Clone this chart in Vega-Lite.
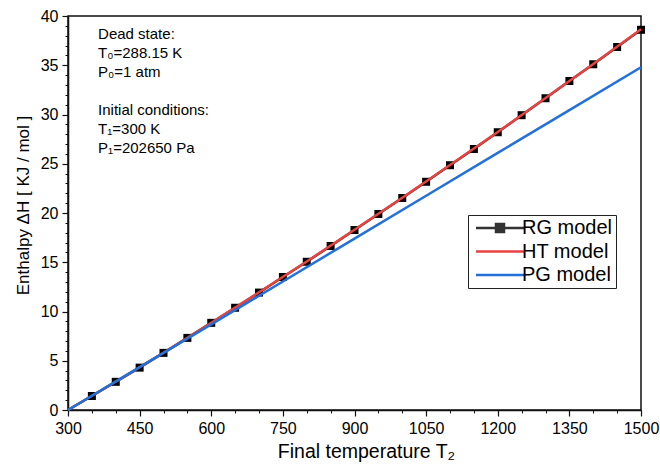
{
  "$schema": "https://vega.github.io/schema/vega-lite/v6.json",
  "width": 573,
  "height": 394,
  "autosize": "none",
  "padding": {"left": 68, "top": 16, "right": 19, "bottom": 54},
  "config": {
    "font": "Liberation Sans",
    "view": {"stroke": "#111111", "strokeWidth": 1.5},
    "axis": {"grid": false, "labelColor": "#000000", "titleColor": "#000000", "tickColor": "#111111", "domainColor": "#111111", "labelFont": "Liberation Sans", "titleFont": "Liberation Sans", "titleFontWeight": "normal"}
  },
  "datasets": {
    "rg": [
      {"T": 300, "H": 0, "series": "RG model"},
      {"T": 350, "H": 1.42, "series": "RG model"},
      {"T": 400, "H": 2.86, "series": "RG model"},
      {"T": 450, "H": 4.3, "series": "RG model"},
      {"T": 500, "H": 5.8, "series": "RG model"},
      {"T": 550, "H": 7.32, "series": "RG model"},
      {"T": 600, "H": 8.85, "series": "RG model"},
      {"T": 650, "H": 10.38, "series": "RG model"},
      {"T": 700, "H": 11.92, "series": "RG model"},
      {"T": 750, "H": 13.5, "series": "RG model"},
      {"T": 800, "H": 15.05, "series": "RG model"},
      {"T": 850, "H": 16.65, "series": "RG model"},
      {"T": 900, "H": 18.27, "series": "RG model"},
      {"T": 950, "H": 19.9, "series": "RG model"},
      {"T": 1000, "H": 21.52, "series": "RG model"},
      {"T": 1050, "H": 23.17, "series": "RG model"},
      {"T": 1100, "H": 24.85, "series": "RG model"},
      {"T": 1150, "H": 26.5, "series": "RG model"},
      {"T": 1200, "H": 28.2, "series": "RG model"},
      {"T": 1250, "H": 29.93, "series": "RG model"},
      {"T": 1300, "H": 31.65, "series": "RG model"},
      {"T": 1350, "H": 33.4, "series": "RG model"},
      {"T": 1400, "H": 35.1, "series": "RG model"},
      {"T": 1450, "H": 36.85, "series": "RG model"},
      {"T": 1500, "H": 38.6, "series": "RG model"}
    ],
    "ht": [
      {"T": 300, "H": 0, "series": "HT model"},
      {"T": 400, "H": 2.87, "series": "HT model"},
      {"T": 500, "H": 5.81, "series": "HT model"},
      {"T": 600, "H": 8.86, "series": "HT model"},
      {"T": 700, "H": 11.95, "series": "HT model"},
      {"T": 800, "H": 15.08, "series": "HT model"},
      {"T": 900, "H": 18.3, "series": "HT model"},
      {"T": 1000, "H": 21.55, "series": "HT model"},
      {"T": 1100, "H": 24.88, "series": "HT model"},
      {"T": 1200, "H": 28.22, "series": "HT model"},
      {"T": 1300, "H": 31.67, "series": "HT model"},
      {"T": 1400, "H": 35.12, "series": "HT model"},
      {"T": 1500, "H": 38.65, "series": "HT model"}
    ],
    "pg": [
      {"T": 300, "H": 0, "series": "PG model"},
      {"T": 450, "H": 4.35, "series": "PG model"},
      {"T": 600, "H": 8.7, "series": "PG model"},
      {"T": 750, "H": 13.05, "series": "PG model"},
      {"T": 900, "H": 17.4, "series": "PG model"},
      {"T": 1050, "H": 21.75, "series": "PG model"},
      {"T": 1200, "H": 26.1, "series": "PG model"},
      {"T": 1350, "H": 30.45, "series": "PG model"},
      {"T": 1500, "H": 34.8, "series": "PG model"}
    ],
    "notes": [
      {"T": 363, "H": 38.2, "text": "Dead state:"},
      {"T": 363, "H": 36.25, "text": "T₀=288.15 K"},
      {"T": 363, "H": 34.3, "text": "P₀=1 atm"},
      {"T": 363, "H": 30.45, "text": "Initial conditions:"},
      {"T": 363, "H": 28.5, "text": "T₁=300 K"},
      {"T": 363, "H": 26.55, "text": "P₁=202650 Pa"}
    ]
  },
  "layer": [
    {
      "data": {"name": "rg"},
      "mark": {"type": "line", "opacity": 0},
      "encoding": {
        "x": {"field": "T", "type": "quantitative", "scale": {"domain": [300, 1500], "nice": false, "zero": false},
          "axis": {"orient": "bottom", "values": [350, 400, 500, 550, 650, 700, 800, 850, 950, 1000, 1100, 1150, 1250, 1300, 1400, 1450], "labels": false, "domain": false, "tickSize": 3, "tickWidth": 1, "title": null}},
        "y": {"field": "H", "type": "quantitative", "scale": {"domain": [0, 40], "nice": false},
          "axis": {"orient": "left", "values": [1, 2, 3, 4, 6, 7, 8, 9, 11, 12, 13, 14, 16, 17, 18, 19, 21, 22, 23, 24, 26, 27, 28, 29, 31, 32, 33, 34, 36, 37, 38, 39], "labels": false, "domain": false, "tickSize": 3, "tickWidth": 1, "title": null}}
      }
    },
    {
      "data": {"name": "rg"},
      "mark": {"type": "line", "strokeWidth": 2.5},
      "encoding": {
        "x": {"field": "T", "type": "quantitative",
          "axis": {"orient": "bottom", "values": [300, 450, 600, 750, 900, 1050, 1200, 1350, 1500], "format": "d", "tickSize": 6, "tickWidth": 1.2, "domainWidth": 1.5, "labelFontSize": 16, "labelPadding": 4, "labelFlush": false, "title": "Final temperature T₂", "titleFontSize": 19.5, "titlePadding": 6, "titleX": 298}},
        "y": {"field": "H", "type": "quantitative",
          "axis": {"orient": "left", "values": [0, 5, 10, 15, 20, 25, 30, 35, 40], "format": "d", "tickSize": 6, "tickWidth": 1.2, "domainWidth": 1.5, "labelFontSize": 16, "labelPadding": 4, "labelFlush": false, "title": "Enthalpy ΔH [ KJ / mol ]", "titleFontSize": 17, "titlePadding": 8, "titleY": 189}},
        "color": {"field": "series", "type": "nominal",
          "scale": {"domain": ["RG model", "HT model", "PG model"], "range": ["#333333", "#ea4141", "#2270d9"]},
          "legend": {
            "orient": "none", "legendX": 400, "legendY": 199, "title": null,
            "strokeColor": "#222222", "fillColor": "#ffffff", "padding": 3, "cornerRadius": 0,
            "labelFontSize": 20, "labelFont": "Liberation Sans", "labelColor": "#000000", "labelOffset": 31,
            "symbolSize": 100, "symbolStrokeWidth": 2.5, "rowPadding": 3.5,
            "encode": {"symbols": {"update": {
              "shape": {"signal": "datum.value === 'RG model' ? 'M-1,0H8.6M3,-0.8H4.6V0.8H3Z' : 'M-1,0H8.6'"},
              "fill": {"signal": "scale('color', datum.value)"},
              "stroke": {"signal": "scale('color', datum.value)"}
            }}}
          }}
      }
    },
    {
      "data": {"name": "rg"},
      "transform": [{"filter": "datum.T > 300"}],
      "mark": {"type": "point", "shape": "square", "filled": true, "size": 64, "color": "#000000", "opacity": 1},
      "encoding": {
        "x": {"field": "T", "type": "quantitative", "axis": null},
        "y": {"field": "H", "type": "quantitative", "axis": null}
      }
    },
    {
      "data": {"name": "ht"},
      "mark": {"type": "line", "strokeWidth": 2.5},
      "encoding": {
        "x": {"field": "T", "type": "quantitative", "axis": null},
        "y": {"field": "H", "type": "quantitative", "axis": null},
        "color": {"field": "series", "type": "nominal"}
      }
    },
    {
      "data": {"name": "pg"},
      "mark": {"type": "line", "strokeWidth": 2.5},
      "encoding": {
        "x": {"field": "T", "type": "quantitative", "axis": null},
        "y": {"field": "H", "type": "quantitative", "axis": null},
        "color": {"field": "series", "type": "nominal"}
      }
    },
    {
      "data": {"name": "notes"},
      "mark": {"type": "text", "align": "left", "baseline": "middle", "fontSize": 15, "font": "Liberation Sans", "color": "#000000"},
      "encoding": {
        "x": {"field": "T", "type": "quantitative", "axis": null},
        "y": {"field": "H", "type": "quantitative", "axis": null},
        "text": {"field": "text"}
      }
    }
  ],
  "resolve": {"axis": {"x": "independent", "y": "independent"}}
}
